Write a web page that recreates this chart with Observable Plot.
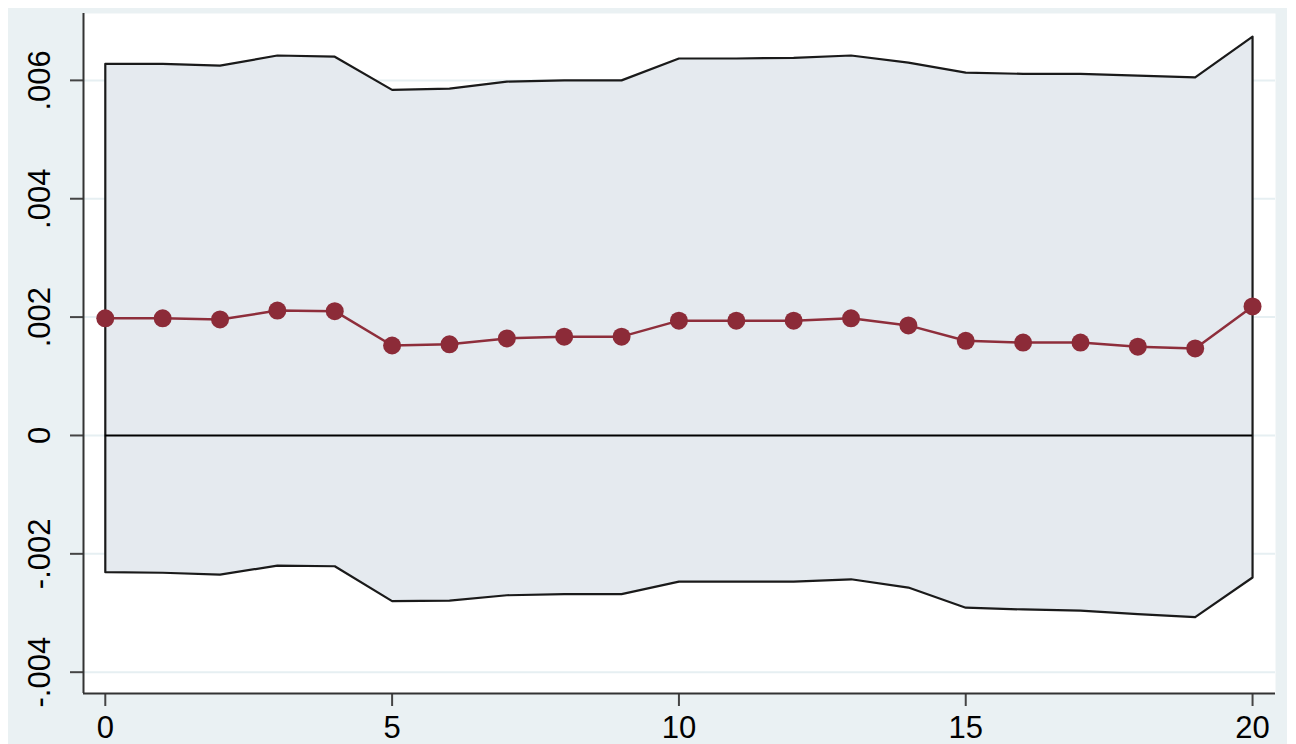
<!DOCTYPE html>
<html>
<head>
<meta charset="utf-8">
<script src="https://cdn.jsdelivr.net/npm/d3@7"></script>
<script src="https://cdn.jsdelivr.net/npm/@observablehq/plot@0.6"></script>
<style>
  html, body { margin: 0; padding: 0; background: #ffffff; }
  #wrap { position: relative; width: 1296px; height: 744px; overflow: hidden; }
  #bg { position: absolute; left: 8px; top: 8px; width: 1279px; height: 736px; background: #eaf1f3; }
  #chart { position: absolute; left: 0; top: 0; }
</style>
</head>
<body>
<div id="wrap"><div id="bg"></div><div id="chart"></div></div>
<script>
const periods = [0,1,2,3,4,5,6,7,8,9,10,11,12,13,14,15,16,17,18,19,20];
const estimate = [0.00198,0.00198,0.00196,0.00211,0.00210,0.00152,0.00154,0.00164,0.00167,0.00167,0.00194,0.00194,0.00194,0.00198,0.00186,0.00160,0.00157,0.00157,0.00150,0.00147,0.00218];
const upper = [0.00628,0.00628,0.00625,0.00642,0.00640,0.00584,0.00586,0.00598,0.00600,0.00600,0.00637,0.00637,0.00638,0.00642,0.00630,0.00613,0.00611,0.00611,0.00608,0.00605,0.00674];
const lower = [-0.00231,-0.00232,-0.00235,-0.00220,-0.00221,-0.00280,-0.00279,-0.00270,-0.00268,-0.00268,-0.00247,-0.00247,-0.00247,-0.00243,-0.00257,-0.00291,-0.00294,-0.00296,-0.00302,-0.00307,-0.00240];
const yTicks = [-0.004,-0.002,0,0.002,0.004,0.006];
const yTickLabels = ["-.004","-.002","0",".002",".004",".006"];
const xTicks = [0,5,10,15,20];

const data = periods.map((p, i) => ({p, est: estimate[i], hi: upper[i], lo: lower[i]}));
// closed band outline
const outline = [
  ...data.map(d => ({p: d.p, v: d.hi})),
  ...data.slice().reverse().map(d => ({p: d.p, v: d.lo})),
  {p: data[0].p, v: data[0].hi}
];
const xDomain = [-0.38, 20.4];
const yDomain = [-0.00436, 0.00713];
const fmt = v => yTickLabels[yTicks.findIndex(t => Math.abs(t - v) < 1e-9)];

const chart = Plot.plot({
  width: 1296,
  height: 744,
  marginLeft: 83,
  marginRight: 21,
  marginTop: 13,
  marginBottom: 51,
  style: {background: "transparent", fontFamily: "'Liberation Sans', Arial, sans-serif", fontSize: "31px", color: "#000"},
  x: {domain: xDomain, label: null},
  y: {domain: yDomain, label: null},
  marks: [
    Plot.frame({fill: "#ffffff", stroke: null}),
    Plot.gridY(yTicks, {stroke: "#e6eff2", strokeOpacity: 1, strokeWidth: 2}),
    Plot.areaY(data, {x: "p", y1: "lo", y2: "hi", fill: "#e5eaef"}),
    Plot.line(outline, {x: "p", y: "v", stroke: "#1a1a1a", strokeWidth: 2.2}),
    Plot.ruleY([0], {x1: periods[0], x2: periods[periods.length - 1], stroke: "#000", strokeWidth: 2}),
    Plot.line(data, {x: "p", y: "est", stroke: "#8e2e3b", strokeWidth: 2.5}),
    Plot.dot(data, {x: "p", y: "est", r: 9, fill: "#8c2b38", stroke: null}),
    Plot.axisY(yTicks, {tickSize: 13, tickFormat: () => "", label: null, stroke: "#444", strokeWidth: 2}),
    Plot.text(yTicks, {y: d => d, text: fmt, frameAnchor: "left", dx: -43, rotate: -90, textAnchor: "middle", lineAnchor: "middle", fontSize: 31, fill: "#000"}),
    Plot.axisX(xTicks, {tickSize: 13, tickPadding: 9, label: null, stroke: "#444", strokeWidth: 2, fontSize: 31, fill: "#000", tickFormat: d => String(d)}),
    Plot.ruleX([xDomain[0]], {stroke: "#333", strokeWidth: 2}),
    Plot.ruleY([yDomain[0]], {stroke: "#333", strokeWidth: 2})
  ]
});
document.getElementById("chart").appendChild(chart);
</script>
</body>
</html>
